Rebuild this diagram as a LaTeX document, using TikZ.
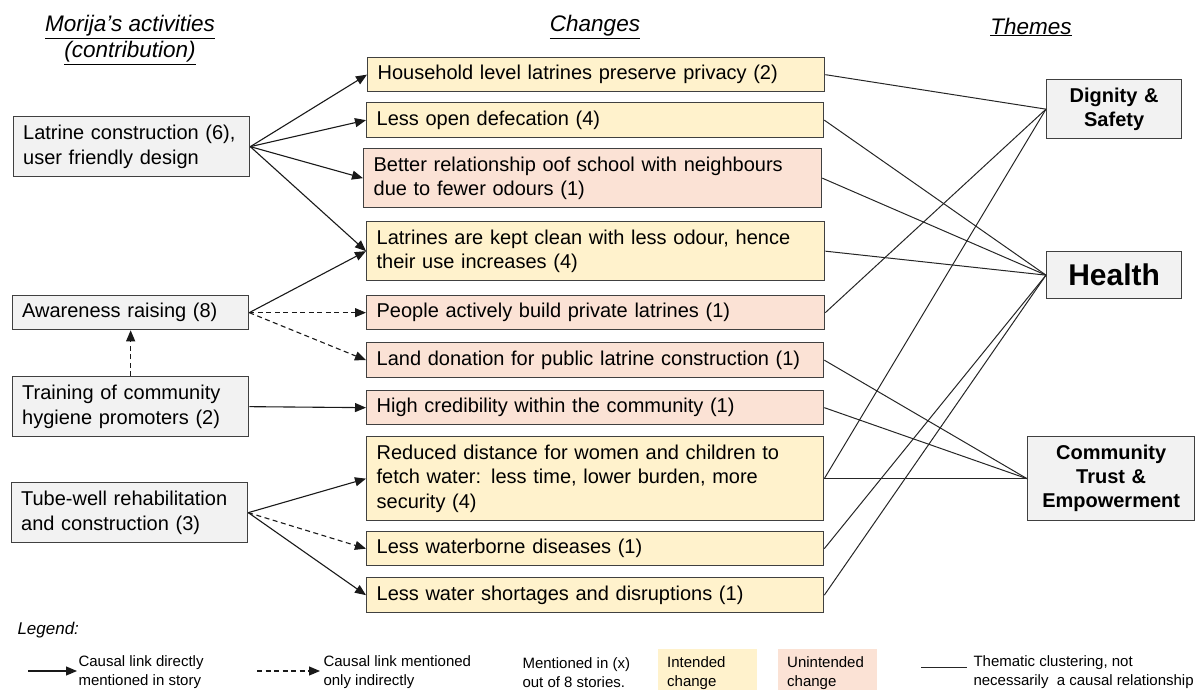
\documentclass[tikz,border=0pt]{standalone}
\usepackage{fontspec}
\setmainfont{Liberation Sans}
\usetikzlibrary{arrows.meta}
\definecolor{intended}{HTML}{FFF2CC}
\definecolor{unintended}{HTML}{FBE2D5}
\definecolor{actgray}{HTML}{F2F2F2}
\definecolor{bordergray}{HTML}{404040}
\begin{document}
\begin{tikzpicture}[x=1pt,y=-1pt,
  basebox/.style={draw=bordergray, line width=1.3pt, inner xsep=10pt, inner ysep=0pt,
    anchor=north west, align=left, font=\fontsize{20}{24.5}\selectfont},
  intd/.style={basebox, fill=intended},
  unintd/.style={basebox, fill=unintended},
  act/.style={basebox, fill=actgray, inner xsep=9.5pt},
  theme/.style={basebox, fill=actgray, align=center, inner xsep=0pt,
    font=\fontsize{20}{24}\selectfont\bfseries},
  hdr/.style={font=\fontsize{22.5}{26}\selectfont\itshape, align=center},
  arr/.style={-{Triangle[length=11pt,width=9pt]}, line width=1.1pt, draw=black!90},
  darr/.style={arr, dash pattern=on 5pt off 3.5pt},
  thm/.style={line width=1pt, draw=black!85},
  legtxt/.style={anchor=west, align=left, font=\fontsize{15}{19}\selectfont},
  legbox/.style={anchor=north west, align=left, inner xsep=9pt, inner ysep=0pt,
    font=\fontsize{15}{19}\selectfont}
]
\useasboundingbox (0,0) rectangle (1195,689);

% headers
\node[hdr] (h1) at (130,40) {\underline{Morija’s activities}\\[0pt]\underline{(contribution)}};
\node[hdr] (h2) at (595,27) {\underline{Changes}};
\node[hdr] (h3) at (1031,27) {\underline{Themes}};

% activities
\node[act, text width=217pt, minimum height=60pt] (a1) at (13,116) {Latrine construction (6),\\user friendly design};
\node[act, text width=217pt, minimum height=34pt] (a2) at (12,295) {Awareness raising (8)};
\node[act, text width=217pt, minimum height=60pt] (a3) at (12,376) {Training of community\\hygiene promoters (2)};
\node[act, text width=217pt, minimum height=60pt] (a4) at (11,482) {Tube-well rehabilitation\\and construction (3)};

% changes
\node[intd, text width=437pt, minimum height=34pt] (c1) at (367,57) {Household level latrines preserve privacy (2)};
\node[intd, text width=437pt, minimum height=35pt] (c2) at (366,102) {Less open defecation (4)};
\node[unintd, text width=438pt, minimum height=59pt] (c3) at (363,148) {Better relationship oof school with neighbours\\due to fewer odours (1)};
\node[intd, text width=438pt, minimum height=59pt] (c4) at (366,221) {Latrines are kept clean with less odour, hence\\their use increases (4)};
\node[unintd, text width=438pt, minimum height=34pt] (c5) at (366,295) {People actively build private latrines (1)};
\node[unintd, text width=437pt, minimum height=35pt] (c6) at (366,342) {Land donation for public latrine construction (1)};
\node[unintd, text width=437pt, minimum height=34pt] (c7) at (366,390) {High credibility within the community (1)};
\node[intd, text width=437pt, minimum height=84pt] (c8) at (366,436) {Reduced distance for women and children to\\fetch water: less time, lower burden, more\\security (4)};
\node[intd, text width=437pt, minimum height=34pt] (c9) at (366,531) {Less waterborne diseases (1)};
\node[intd, text width=437pt, minimum height=35pt] (c10) at (366,577) {Less water shortages and disruptions (1)};

% themes
\node[theme, text width=135pt, minimum height=59pt] (t1) at (1046,79) {Dignity \&\\Safety};
\node[theme, text width=135pt, minimum height=47pt, font=\fontsize{30}{34}\selectfont\bfseries] (t2) at (1046,251) {Health};
\node[theme, text width=167pt, minimum height=84pt] (t3) at (1027,436) {Community\\Trust \&\\Empowerment};

% causal links
\draw[arr] (a1.east) -- (c1.west);
\draw[arr] (a1.east) -- (c2.west);
\draw[arr] (a1.east) -- (c3.west);
\draw[arr] (a1.east) -- (c4.west);
\draw[arr] (a2.east) -- (c4.west);
\draw[darr] (a2.east) -- (c5.west);
\draw[darr] (a2.east) -- (c6.west);
\draw[darr] (a3.north) -- (a2.south);
\draw[arr] (a3.east) -- (c7.west);
\draw[arr] (a4.east) -- (c8.west);
\draw[darr] (a4.east) -- (c9.west);
\draw[arr] (a4.east) -- (c10.west);

% thematic links
\draw[thm] (c1.east) -- (t1.west);
\draw[thm] (c2.east) -- (t2.west);
\draw[thm] (c3.east) -- (t2.west);
\draw[thm] (c4.east) -- (t2.west);
\draw[thm] (c5.east) -- (t1.west);
\draw[thm] (c6.east) -- (t3.west);
\draw[thm] (c7.east) -- (t3.west);
\draw[thm] (c8.east) -- (t1.west);
\draw[thm] (c8.east) -- (t3.west);
\draw[thm] (c9.east) -- (t2.west);
\draw[thm] (c10.east) -- (t2.west);

% legend
\node[anchor=west, font=\fontsize{17}{20}\selectfont\itshape] (leg) at (14,630) {Legend:};
\coordinate (l1a) at (28,671);
\coordinate (l1b) at (77,671);
\draw[arr] (l1a) -- (l1b);
\node[legtxt] (l1t) at (75,672.5) {Causal link directly\\mentioned in story};
\coordinate (l2a) at (257,671);
\coordinate (l2b) at (320,671);
\draw[darr] (l2a) -- (l2b);
\node[legtxt] (l2t) at (320,672.5) {Causal link mentioned\\only indirectly};
\node[legtxt] (l3t) at (519,672.5) {Mentioned in (x)\\out of 8 stories.};
\node[legbox, fill=intended, text width=81pt, minimum height=47pt] (l4) at (658,649) {Intended\\change};
\node[legbox, fill=unintended, text width=81pt, minimum height=47pt] (l5) at (778,649) {Unintended\\change};
\coordinate (l6a) at (921,667);
\coordinate (l6b) at (967,667);
\draw[thm] (l6a) -- (l6b);
\node[legtxt] (l6t) at (970,672.5) {Thematic clustering, not\\necessarily\ \ a causal relationship};
\end{tikzpicture}
\end{document}
